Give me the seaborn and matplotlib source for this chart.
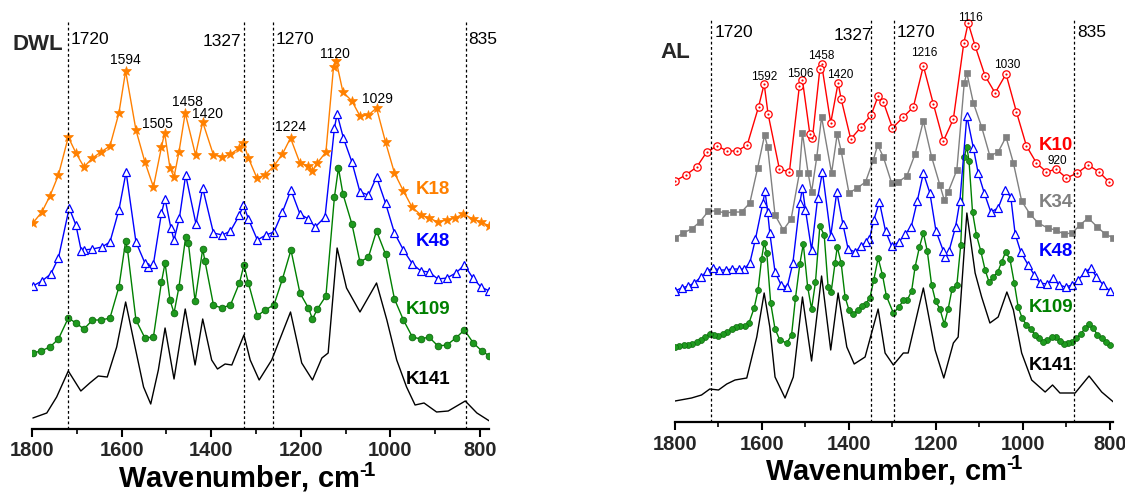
import matplotlib
matplotlib.use("Agg")
import matplotlib.pyplot as plt
import seaborn as sns
from matplotlib.ticker import MultipleLocator, FixedLocator

# ---------------- DATA: DWL panel (wavenumber, cm-1 / intensity, a.u.) ----------------
dwl_k18_wn = [1798, 1778, 1760, 1741, 1719, 1702, 1684, 1665, 1646, 1626, 1606, 1591, 1568, 1548, 1529,
              1511, 1504, 1492, 1483, 1472, 1458, 1435, 1419, 1395, 1375, 1357, 1337, 1328, 1317, 1298,
              1280, 1260, 1241, 1223, 1202, 1183, 1174, 1163, 1144, 1127, 1121, 1106, 1086, 1068, 1049,
              1031, 1011, 991, 971, 952, 932, 914, 894, 874, 856, 837, 816, 798, 779]
dwl_k18 = [206, 217, 233, 254, 292, 276, 262, 271, 277, 283, 316, 358, 299, 267, 242,
           282, 296, 261, 252, 277, 316, 274, 307, 274, 272, 275, 281, 286, 271, 251,
           254, 263, 275, 291, 266, 263, 258, 266, 277, 362, 368, 337, 328, 313, 314,
           321, 287, 256, 238, 222, 214, 211, 207, 209, 211, 215, 210, 207, 203]

dwl_k48_wn = [1798, 1778, 1758, 1741, 1717, 1702, 1690, 1684, 1665, 1644, 1626, 1606, 1590, 1568, 1548,
              1540, 1529, 1511, 1503, 1490, 1483, 1471, 1457, 1434, 1419, 1395, 1375, 1357, 1337, 1328,
              1317, 1297, 1278, 1260, 1241, 1222, 1202, 1183, 1168, 1146, 1125, 1119, 1105, 1086, 1068,
              1049, 1031, 1011, 991, 971, 951, 932, 914, 894, 874, 854, 835, 816, 798, 779]
dwl_k48 = [143, 148, 155, 171, 221, 204, 178, 179, 180, 182, 187, 219, 257, 187, 166,
           162, 165, 216, 230, 201, 189, 211, 254, 205, 241, 196, 194, 198, 214, 224,
           210, 189, 194, 197, 217, 239, 215, 210, 202, 212, 301, 315, 291, 267, 237,
           234, 252, 226, 196, 179, 165, 158, 157, 150, 151, 156, 164, 151, 142, 138]

dwl_k109_wn = [1798, 1780, 1760, 1741, 1719, 1702, 1684, 1665, 1645, 1626, 1606, 1591, 1587, 1568, 1548,
               1529, 1511, 1503, 1492, 1483, 1472, 1457, 1451, 1436, 1419, 1414, 1395, 1377, 1357, 1337,
               1327, 1317, 1297, 1280, 1260, 1241, 1222, 1202, 1183, 1174, 1163, 1144, 1125, 1116, 1106,
               1086, 1068, 1049, 1031, 1011, 991, 971, 951, 932, 914, 894, 874, 854, 835, 815, 796, 779]
dwl_k109 = [76, 78, 82, 90, 111, 106, 100, 109, 109, 111, 142, 188, 180, 109, 91,
            92, 147, 166, 129, 116, 142, 192, 186, 128, 180, 168, 124, 121, 124, 146,
            164, 146, 113, 119, 124, 150, 179, 136, 121, 110, 120, 133, 232, 261, 235,
            205, 167, 172, 198, 175, 130, 109, 92, 90, 92, 83, 84, 91, 99, 86, 78, 73]

dwl_k141_wn = [1798, 1767, 1745, 1719, 1691, 1671, 1652, 1632, 1611, 1591, 1570, 1551, 1535, 1518, 1503,
               1483, 1458, 1436, 1419, 1399, 1386, 1369, 1354, 1327, 1313, 1293, 1265, 1223, 1198, 1174,
               1153, 1139, 1119, 1098, 1083, 1068, 1031, 1008, 986, 964, 945, 925, 897, 871, 833, 807, 779]
dwl_k141 = [11, 16, 32, 58, 38, 46, 53, 52, 82, 127, 82, 42, 25, 59, 101,
            50, 120, 64, 110, 69, 60, 65, 64, 94, 69, 49, 69, 117, 66, 49,
            71, 76, 181, 141, 129, 117, 146, 109, 69, 42, 24, 26, 17, 18, 28, 16, 8]

# ---------------- DATA: AL panel ----------------
al_k10_wn = [1800, 1775, 1750, 1727, 1703, 1680, 1657, 1634, 1608, 1595, 1586, 1560, 1537, 1514, 1507,
             1490, 1484, 1467, 1463, 1442, 1425, 1418, 1396, 1372, 1349, 1333, 1321, 1300, 1275, 1252,
             1229, 1206, 1183, 1160, 1136, 1126, 1110, 1087, 1064, 1039, 1015, 992, 969, 946, 924,
             900, 875, 850, 825, 802]
al_k10 = [241, 247, 255, 270, 276, 271, 271, 277, 315, 338, 308, 253, 250, 336, 342,
          288, 284, 353, 358, 299, 339, 323, 283, 295, 307, 326, 320, 294, 305, 315,
          356, 318, 281, 303, 379, 399, 376, 346, 329, 348, 310, 276, 259, 250, 253,
          244, 249, 257, 250, 240]

al_k34_wn = [1800, 1781, 1762, 1743, 1723, 1704, 1685, 1666, 1647, 1628, 1610, 1594, 1587, 1570, 1551,
             1533, 1514, 1507, 1494, 1486, 1474, 1463, 1440, 1427, 1418, 1400, 1381, 1362, 1344, 1334,
             1321, 1302, 1287, 1267, 1248, 1229, 1210, 1191, 1181, 1172, 1152, 1135, 1129, 1114, 1095,
             1076, 1057, 1039, 1022, 1003, 984, 965, 943, 925, 906, 887, 869, 850, 829, 811, 792]
al_k34 = [184, 189, 193, 200, 211, 211, 209, 210, 210, 219, 254, 287, 275, 207, 192,
          203, 249, 289, 249, 230, 265, 305, 249, 288, 271, 229, 234, 240, 262, 277,
          265, 239, 240, 246, 268, 301, 265, 237, 222, 230, 252, 339, 349, 319, 295,
          266, 270, 285, 259, 221, 208, 199, 194, 192, 188, 189, 197, 204, 195, 188, 184]

al_k48_wn = [1800, 1785, 1769, 1756, 1740, 1726, 1712, 1698, 1683, 1670, 1654, 1641, 1628, 1615, 1598,
             1593, 1587, 1582, 1570, 1556, 1542, 1529, 1513, 1507, 1500, 1486, 1472, 1461, 1442, 1428,
             1414, 1402, 1386, 1372, 1361, 1353, 1343, 1330, 1316, 1302, 1285, 1271, 1257, 1243, 1229,
             1214, 1200, 1183, 1179, 1170, 1155, 1145, 1129, 1114, 1103, 1089, 1074, 1057, 1041, 1028,
             1018, 1005, 988, 974, 961, 945, 930, 917, 902, 887, 873, 857, 844, 831, 815, 800]
al_k48 = [131, 134, 136, 139, 145, 151, 154, 152, 152, 153, 153, 153, 159, 183, 219,
          231, 210, 189, 150, 137, 135, 159, 219, 234, 212, 172, 224, 250, 186, 230,
          198, 173, 170, 176, 180, 183, 202, 220, 191, 176, 180, 188, 195, 221, 249,
          229, 191, 171, 165, 171, 195, 221, 306, 274, 249, 229, 210, 214, 232, 225,
          188, 170, 157, 147, 139, 138, 144, 137, 135, 137, 142, 150, 154, 145, 137, 131]

al_k109_wn = [1800, 1790, 1780, 1770, 1760, 1750, 1740, 1730, 1720, 1710, 1700, 1690, 1680, 1670, 1660,
              1650, 1640, 1630, 1618, 1609, 1601, 1595, 1589, 1580, 1570, 1559, 1543, 1532, 1523, 1513,
              1505, 1495, 1486, 1477, 1467, 1457, 1448, 1441, 1432, 1427, 1418, 1409, 1400, 1390, 1380,
              1371, 1362, 1352, 1343, 1333, 1323, 1314, 1298, 1285, 1275, 1266, 1256, 1248, 1238, 1229,
              1220, 1210, 1201, 1191, 1181, 1172, 1163, 1152, 1143, 1135, 1129, 1124, 1116, 1107, 1097,
              1087, 1078, 1068, 1058, 1049, 1040, 1030, 1020, 1011, 1002, 992, 982, 972, 963, 953,
              944, 934, 925, 915, 906, 896, 887, 877, 867, 857, 848, 838, 829, 819, 810, 800]
al_k109 = [75, 76, 77, 77, 78, 80, 82, 85, 88, 87, 86, 88, 90, 93, 95,
           96, 96, 99, 114, 132, 163, 179, 169, 119, 93, 82, 79, 87, 124, 158,
           178, 135, 113, 140, 196, 187, 135, 130, 159, 175, 159, 125, 112, 108, 112,
           116, 118, 124, 142, 164, 147, 126, 109, 115, 122, 122, 131, 155, 175, 189,
           171, 137, 121, 113, 98, 113, 133, 137, 177, 265, 275, 261, 210, 187, 171,
           152, 140, 145, 150, 160, 170, 163, 139, 115, 104, 97, 93, 87, 84, 80,
           82, 85, 85, 81, 78, 79, 80, 84, 88, 94, 98, 94, 87, 84, 80, 77]

al_k141_wn = [1800, 1762, 1739, 1720, 1700, 1681, 1662, 1635, 1612, 1595, 1582, 1570, 1547, 1528, 1507,
              1486, 1463, 1442, 1425, 1405, 1388, 1363, 1333, 1317, 1298, 1275, 1264, 1229, 1202, 1182,
              1160, 1149, 1129, 1110, 1095, 1076, 1057, 1037, 1022, 1003, 980, 949, 932, 915, 880,
              848, 819, 792]
al_k141 = [21, 24, 27, 33, 32, 38, 42, 44, 85, 129, 95, 45, 24, 45, 125,
           61, 146, 72, 129, 75, 58, 65, 113, 69, 57, 69, 69, 134, 72, 44,
           79, 85, 209, 149, 125, 99, 105, 130, 112, 69, 42, 30, 37, 29, 29,
           46, 30, 20]

# ---------------- annotation texts ----------------
dwl_vlines = [1719, 1327, 1262, 831]
dwl_vline_labels = ["1720", "1327", "1270", "835"]
al_vlines = [1717, 1350, 1297, 883]
al_vline_labels = ["1720", "1327", "1270", "835"]

dwl_peak_labels = ["1594", "1505", "1458", "1420", "1224", "1120", "1029"]
dwl_peak_wn = [1592, 1521, 1454, 1409, 1222, 1124, 1030]
dwl_peak_y = [369, 305, 327, 315, 302, 375, 330]

al_peak_labels = ["1592", "1506", "1458", "1420", "1216", "1116", "1030", "920"]
al_peak_wn = [1595, 1513, 1464, 1421, 1228, 1120, 1037, 922]
al_peak_y = [345, 348, 366, 347, 369, 404, 357, 261]

dwl_names = ["K18", "K48", "K109", "K141"]
dwl_name_y = [239, 187, 119, 49]
al_names = ["K10", "K34", "K48", "K109", "K141"]
al_name_y = [277, 220, 170, 114, 57]

xticks = [1800, 1600, 1400, 1200, 1000, 800]

# ---------------- style ----------------
sns.set_theme(style="white")
plt.rcParams["font.family"] = ["Liberation Sans", "DejaVu Sans"]
plt.rcParams["mathtext.fontset"] = "custom"
plt.rcParams["mathtext.rm"] = "Liberation Sans:bold"
plt.rcParams["mathtext.it"] = "Liberation Sans:bold"
plt.rcParams["mathtext.bf"] = "Liberation Sans:bold"

ORANGE = "#FF8000"
BLUE = "#0000FF"
GREEN = "#008000"
GREEN_M = "#1E9A1E"
RED = "#FF0000"
GRAY = "#808080"

fig = plt.figure(figsize=(11.25, 4.92), dpi=100)
ax1 = fig.add_axes([32 / 1125, (492 - 429) / 492, (489 - 32) / 1125, 424 / 492])
ax2 = fig.add_axes([675 / 1125, (492 - 422) / 492, (1113 - 675) / 1125, 417 / 492])


def style_axis(ax, xlim, ylim):
    ax.set_xlim(*xlim)
    ax.set_ylim(*ylim)
    ax.set_yticks([])
    for s in ["top", "right", "left"]:
        ax.spines[s].set_visible(False)
    ax.spines["bottom"].set_linewidth(1.6)
    ax.spines["bottom"].set_color("black")
    ax.xaxis.set_major_locator(FixedLocator(xticks))
    ax.xaxis.set_minor_locator(MultipleLocator(100))
    ax.tick_params(axis="x", which="major", bottom=True, direction="out", length=6,
                   width=1.5, color="black", pad=3, labelsize=14.5)
    ax.tick_params(axis="x", which="minor", bottom=True, direction="out", length=3.5,
                   width=1.2, color="black")
    for lab in ax.get_xticklabels():
        lab.set_fontweight("bold")
    ax.set_xlabel("Wavenumber, cm$^{\u2010\\!1}$", fontsize=21, fontweight="bold", color="black")
    ax.grid(False)
    ax.set_facecolor("none")


def line(ax, x, y, color, **kw):
    sns.lineplot(x=x, y=y, ax=ax, color=color, linewidth=1.0, estimator=None, **kw)


# ---- DWL panel ----
line(ax1, dwl_k141_wn, dwl_k141, "black")
line(ax1, dwl_k109_wn, dwl_k109, GREEN, marker="o", markersize=4.8, markerfacecolor=GREEN_M,
     markeredgecolor="#0D6A0D", markeredgewidth=0.6)
line(ax1, dwl_k48_wn, dwl_k48, BLUE, marker="^", markersize=5.5, markerfacecolor="white",
     markeredgecolor=BLUE, markeredgewidth=0.9)
line(ax1, dwl_k18_wn, dwl_k18, ORANGE, marker="*", markersize=7.5, markerfacecolor=ORANGE,
     markeredgecolor=ORANGE, markeredgewidth=0.5)

style_axis(ax1, (1800, 780), (0, 424))

for xv, lab, side in zip(dwl_vlines, dwl_vline_labels, ["l", "r", "l", "l"]):
    ax1.axvline(xv, ymin=0, ymax=0.965, color="black", linestyle=(0, (2.2, 2.0)), linewidth=0.9)
    if side == "l":
        ax1.text(xv - 5, 390, lab, ha="left", va="center", fontsize=12.5, color="black")
    else:
        ax1.text(xv + 6, 388, lab, ha="right", va="center", fontsize=12.5, color="black")

for lab, xv, yv in zip(dwl_peak_labels, dwl_peak_wn, dwl_peak_y):
    ax1.text(xv, yv, lab, ha="center", va="center", fontsize=10, color="black")

for name, yv, c in zip(dwl_names, dwl_name_y, [ORANGE, BLUE, GREEN, "black"]):
    ax1.text(867, yv, name, ha="right", va="center", fontsize=13.5, fontweight="bold", color=c)

# ---- AL panel ----
line(ax2, al_k141_wn, al_k141, "black")
line(ax2, al_k109_wn, al_k109, GREEN, marker="o", markersize=4.3, markerfacecolor=GREEN_M,
     markeredgecolor="#0D6A0D", markeredgewidth=0.5)
line(ax2, al_k48_wn, al_k48, BLUE, marker="^", markersize=5.5, markerfacecolor="white",
     markeredgecolor=BLUE, markeredgewidth=0.9)
line(ax2, al_k34_wn, al_k34, GRAY, marker="s", markersize=4.2, markerfacecolor=GRAY,
     markeredgecolor=GRAY, markeredgewidth=0.5)
line(ax2, al_k10_wn, al_k10, RED, marker="o", markersize=5.3, markerfacecolor="white",
     markeredgecolor=RED, markeredgewidth=0.9)
sns.scatterplot(x=al_k10_wn, y=al_k10, ax=ax2, color=RED, s=2.5, linewidth=0, legend=False, zorder=5)

style_axis(ax2, (1800, 793), (0, 417))

for xv, lab, side in zip(al_vlines, al_vline_labels, ["l", "r", "l", "l"]):
    ax2.axvline(xv, ymin=0, ymax=0.965, color="black", linestyle=(0, (2.2, 2.0)), linewidth=0.9)
    if side == "l":
        ax2.text(xv - 7, 390, lab, ha="left", va="center", fontsize=12.5, color="black")
    else:
        ax2.text(xv - 4, 387, lab, ha="right", va="center", fontsize=12.5, color="black")

for lab, xv, yv in zip(al_peak_labels, al_peak_wn, al_peak_y):
    ax2.text(xv, yv, lab, ha="center", va="center", fontsize=8.5, color="black")

for name, yv, c in zip(al_names, al_name_y, [RED, GRAY, BLUE, GREEN, "black"]):
    ax2.text(885, yv, name, ha="right", va="center", fontsize=13.5, fontweight="bold", color=c)

ax1.xaxis.set_label_coords(0.47, -0.075)
ax2.xaxis.set_label_coords(0.5, -0.077)

fig.text(12 / 1125, 1 - 45 / 492, "DWL", ha="left", va="center", fontsize=16, fontweight="bold")
fig.text(660 / 1125, 1 - 53 / 492, "AL", ha="left", va="center", fontsize=16, fontweight="bold")

fig.savefig("out.png", dpi=100, facecolor="white")
